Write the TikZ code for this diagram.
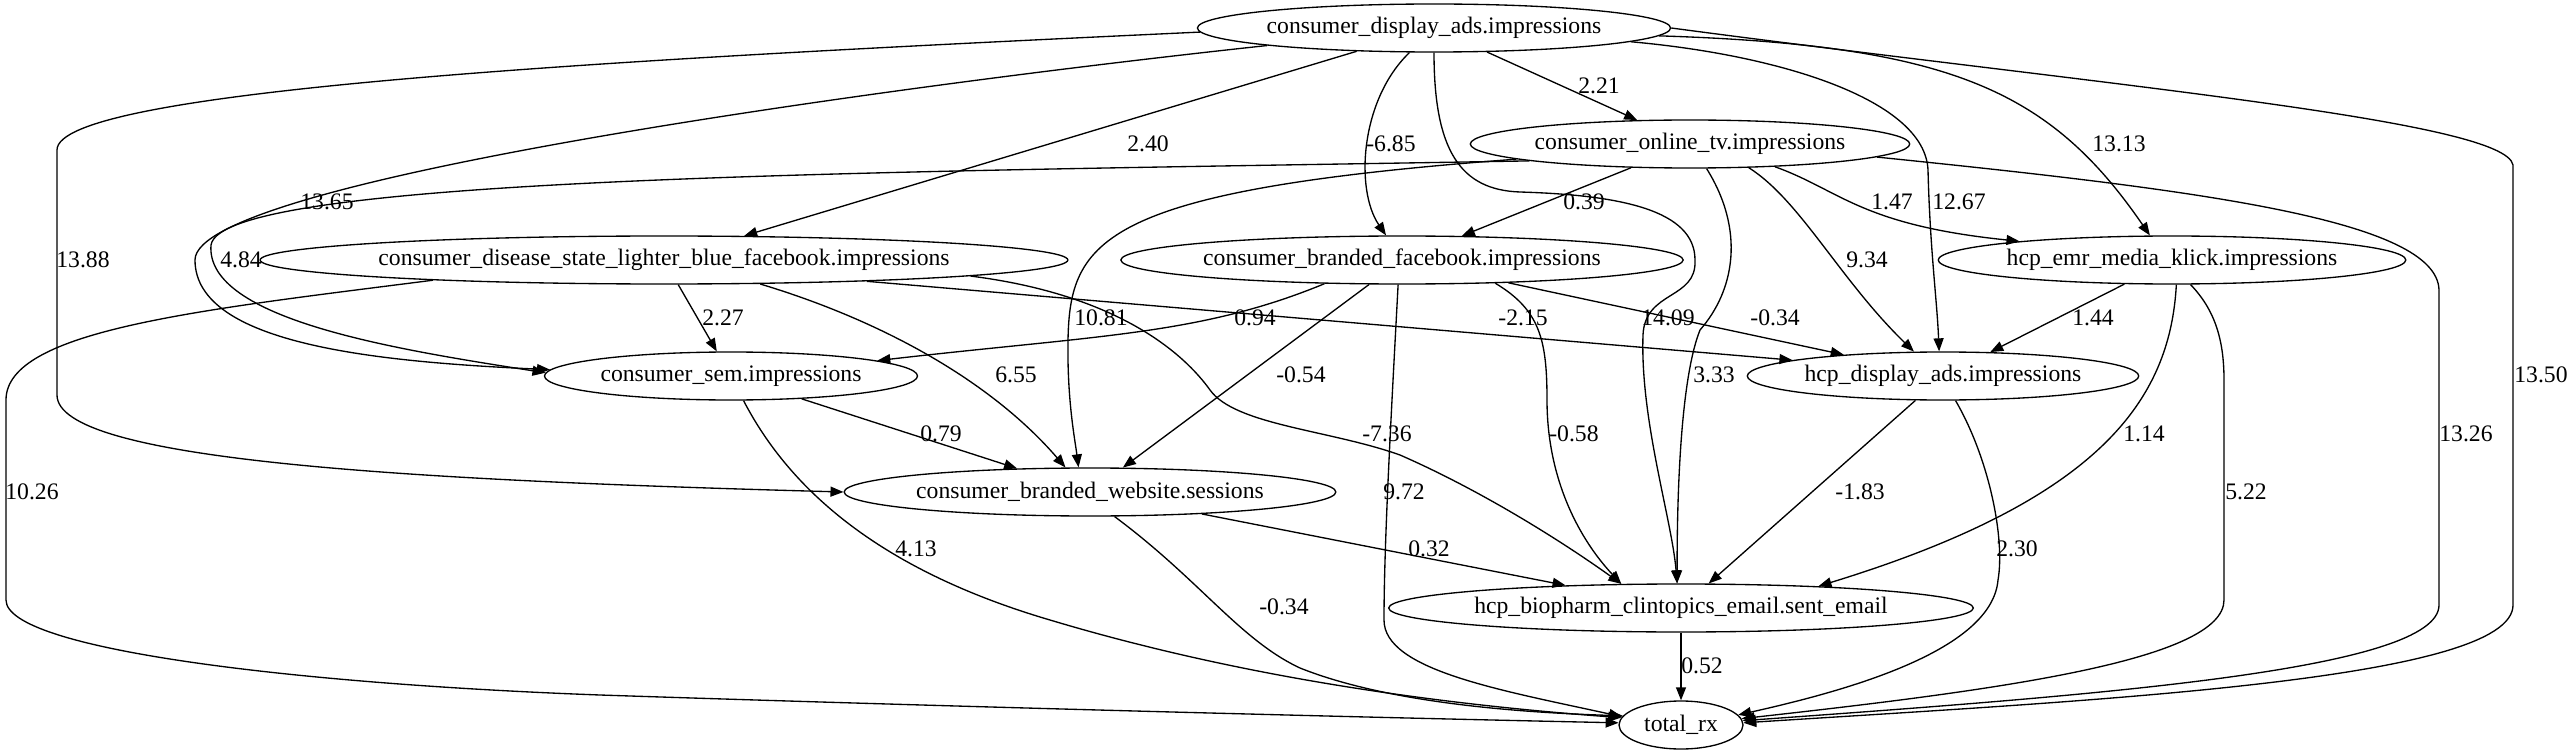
\documentclass[tikz,border=0pt]{standalone}
\usepackage{fontspec}
\setmainfont{Liberation Serif}
\usetikzlibrary{arrows.meta,shapes.geometric}

\begin{document}
\begin{tikzpicture}[x=0.6pt, y=-0.6pt, font=\fontsize{14.2}{17}\selectfont,
	nd/.style={draw, ellipse, line width=0.8pt, inner sep=0pt, minimum height=28.8pt},
	edge/.style={draw, line width=0.8pt, -{Triangle[length=7.8pt,width=6pt]}},
	lbl/.style={inner sep=0pt}]
\useasboundingbox (0,0) rectangle (2573,755);

\node[nd, minimum width=280.2pt] (display) at (1434,28) {consumer\_display\_ads.impressions};
\node[nd, minimum width=258.6pt] (onlinetv) at (1690,144) {consumer\_online\_tv.impressions};
\node[nd, minimum width=466.2pt] (disease) at (664,260) {consumer\_disease\_state\_lighter\_blue\_facebook.impressions};
\node[nd, minimum width=330pt] (brandedfb) at (1402,260) {consumer\_branded\_facebook.impressions};
\node[nd, minimum width=273pt] (emr) at (2172,260) {hcp\_emr\_media\_klick.impressions};
\node[nd, minimum width=223.8pt] (sem) at (731,376) {consumer\_sem.impressions};
\node[nd, minimum width=232.8pt] (hcpdisplay) at (1943,376) {hcp\_display\_ads.impressions};
\node[nd, minimum width=291pt] (website) at (1090,492) {consumer\_branded\_website.sessions};
\node[nd, minimum width=336.6pt] (email) at (1681,608) {hcp\_biopharm\_clintopics\_email.sent\_email};
\node[nd, minimum width=74.4pt] (rx) at (1681,725) {total\_rx};

\draw[edge] (display) -- (onlinetv) node[lbl] at (1599,86) {2.21};
\draw[edge] (display) -- (disease) node[lbl] at (1148,144) {2.40};
\draw[edge] (display.225) .. controls (1360,100) and (1355,190) .. (brandedfb.123) node[lbl] at (1391,144) {-6.85};
\draw[edge] (display.186) .. controls (900,85) and (195,180) .. (195,260) .. controls (195,345) and (380,362) .. (sem.178) node[lbl] at (327,202) {13.65};
\draw[edge] (display.181) .. controls (600,60) and (57,90) .. (57,150) -- (57,395) .. controls (57,460) and (400,480) .. (website.180) node[lbl] at (83,260) {13.88};
\draw[edge] (display.270) .. controls (1434,150) and (1460,190) .. (1520,192) .. controls (1620,195) and (1695,210) .. (1695,260) .. controls (1697,300) and (1645,290) .. (1643,335) .. controls (1640,420) and (1672,520) .. (email.99) node[lbl] at (1668,318) {14.09};
\draw[edge] (display.356) .. controls (1780,55) and (1925,100) .. (1928,170) .. controls (1930,250) and (1937,300) .. (hcpdisplay.99) node[lbl] at (1959,202) {12.67};
\draw[edge] (display.358) .. controls (1950,45) and (2050,90) .. (emr.132) node[lbl] at (2119,144) {13.13};
\draw[edge] (display.east) .. controls (2100,85) and (2505,120) .. (2513,165) -- (2513,605) .. controls (2513,680) and (2100,700) .. (rx.2) node[lbl] at (2541,375) {13.50};

\draw[edge] (onlinetv.186) .. controls (900,172) and (222,175) .. (211,245) .. controls (205,320) and (400,350) .. (sem.179) node[lbl] at (241,260) {4.84};
\draw[edge] (onlinetv.185) .. controls (1100,190) and (1070,240) .. (1068,340) .. controls (1067,400) and (1075,440) .. (website.115) node[lbl] at (1101,318) {10.81};
\draw[edge] (onlinetv) -- (brandedfb) node[lbl] at (1584,202) {0.39};
\draw[edge] (onlinetv.345) .. controls (1840,190) and (1860,225) .. (emr.173) node[lbl] at (1892,202) {1.47};
\draw[edge] (onlinetv.338) .. controls (1800,200) and (1840,280) .. (hcpdisplay.140) node[lbl] at (1867,260) {9.34};
\draw[edge] (onlinetv.304) .. controls (1745,230) and (1735,290) .. (1700,330) .. controls (1680,380) and (1677,500) .. (email.99) node[lbl] at (1714,375) {3.33};
\draw[edge] (onlinetv.356) .. controls (2200,190) and (2437,220) .. (2439,290) -- (2439,605) .. controls (2439,670) and (2100,695) .. (rx.4) node[lbl] at (2466,434) {13.26};

\draw[edge] (disease.185) .. controls (200,310) and (6,330) .. (6,400) -- (6,600) .. controls (6,650) and (300,684) .. (600,695) .. controls (900,705) and (1300,716) .. (rx.178) node[lbl] at (32,492) {10.26};
\draw[edge] (disease) -- (sem) node[lbl] at (723,318) {2.27};
\draw[edge] (disease.346) .. controls (880,320) and (990,380) .. (website.135) node[lbl] at (1016,375) {6.55};
\draw[edge] (disease.354) -- (hcpdisplay.174) node[lbl] at (1523,318) {-2.15};
\draw[edge] (disease.357) .. controls (1120,295) and (1185,355) .. (1210,390) .. controls (1235,425) and (1330,430) .. (1400,455) .. controls (1480,490) and (1560,540) .. (email.158) node[lbl] at (1387,434) {-7.36};

\draw[edge] (brandedfb.197) .. controls (1200,335) and (1100,335) .. (sem.6) node[lbl] at (1255,318) {0.94};
\draw[edge] (brandedfb) -- (website) node[lbl] at (1301,375) {-0.54};
\draw[edge] (brandedfb.261) .. controls (1392,400) and (1384,540) .. (1384,620) .. controls (1384,670) and (1500,690) .. (rx.172) node[lbl] at (1404,492) {9.72};
\draw[edge] (brandedfb.346) .. controls (1540,310) and (1547,340) .. (1547,400) .. controls (1547,480) and (1580,540) .. (email.158) node[lbl] at (1574,434) {-0.58};
\draw[edge] (brandedfb) -- (hcpdisplay) node[lbl] at (1775,318) {-0.34};

\draw[edge] (emr) -- (hcpdisplay) node[lbl] at (2093,318) {1.44};
\draw[edge] (emr.280) .. controls (2170,400) and (2100,500) .. (email.9) node[lbl] at (2144,434) {1.14};
\draw[edge] (emr.307) .. controls (2215,310) and (2224,340) .. (2224,380) -- (2224,600) .. controls (2224,660) and (2000,690) .. (rx.6) node[lbl] at (2246,492) {5.22};

\draw[edge] (sem) -- (website) node[lbl] at (941,434) {0.79};
\draw[edge] (sem.297) .. controls (790,490) and (880,570) .. (1050,620) .. controls (1250,680) and (1450,705) .. (rx.173) node[lbl] at (916,549) {4.13};

\draw[edge] (website) -- (email) node[lbl] at (1429,549) {0.32};
\draw[edge] (website.315) .. controls (1200,580) and (1240,640) .. (1300,668) .. controls (1380,700) and (1500,712) .. (rx.171) node[lbl] at (1284,607) {-0.34};

\draw[edge] (hcpdisplay) -- (email) node[lbl] at (1860,492) {-1.83};
\draw[edge] (hcpdisplay.297) .. controls (1990,460) and (2005,540) .. (1998,580) .. controls (1992,650) and (1850,690) .. (rx.10) node[lbl] at (2017,549) {2.30};

\draw[edge] (email) -- (rx) node[lbl] at (1702,666) {0.52};
\end{tikzpicture}
\end{document}
